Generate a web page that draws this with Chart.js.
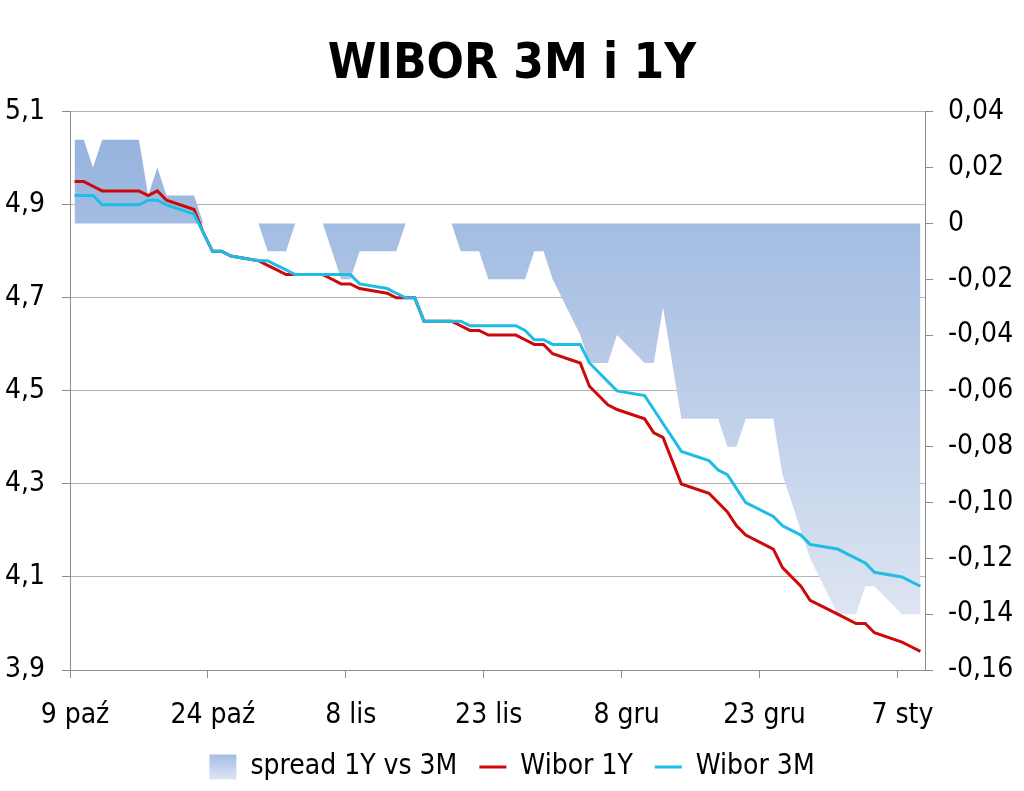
<!DOCTYPE html>
<html>
<head>
<meta charset="utf-8">
<title>WIBOR 3M i 1Y</title>
<script src="https://cdn.jsdelivr.net/npm/chart.js@4.4.1/dist/chart.umd.min.js"></script>
<style>
  html, body { margin: 0; padding: 0; background: #fff; }
</style>
</head>
<body>
<canvas id="myChart" width="1024" height="791"></canvas>
<script>
// fixing dates (x axis is a date axis, weekends are skipped)
const dates = [
  "2012-10-09", "2012-10-10", "2012-10-11", "2012-10-12", "2012-10-15", "2012-10-16", "2012-10-17",
  "2012-10-18", "2012-10-19", "2012-10-22", "2012-10-23", "2012-10-24", "2012-10-25", "2012-10-26",
  "2012-10-29", "2012-10-30", "2012-10-31", "2012-11-01", "2012-11-02", "2012-11-05", "2012-11-06",
  "2012-11-07", "2012-11-08", "2012-11-09", "2012-11-12", "2012-11-13", "2012-11-14", "2012-11-15",
  "2012-11-16", "2012-11-19", "2012-11-20", "2012-11-21", "2012-11-22", "2012-11-23", "2012-11-26",
  "2012-11-27", "2012-11-28", "2012-11-29", "2012-11-30", "2012-12-03", "2012-12-04", "2012-12-05",
  "2012-12-06", "2012-12-07", "2012-12-10", "2012-12-11", "2012-12-12", "2012-12-13", "2012-12-14",
  "2012-12-17", "2012-12-18", "2012-12-19", "2012-12-20", "2012-12-21", "2012-12-24", "2012-12-25",
  "2012-12-27", "2012-12-28", "2012-12-31", "2013-01-02", "2013-01-03", "2013-01-04", "2013-01-07",
  "2013-01-08", "2013-01-09"
];

const wibor1Y = [
  4.95, 4.95, 4.94, 4.93, 4.93, 4.93, 4.92,
  4.93, 4.91, 4.89, 4.84, 4.80, 4.80, 4.79,
  4.78, 4.77, 4.76, 4.75, 4.75, 4.75, 4.74,
  4.73, 4.73, 4.72, 4.71, 4.70, 4.70, 4.70,
  4.65, 4.65, 4.64, 4.63, 4.63, 4.62, 4.62,
  4.61, 4.60, 4.60, 4.58, 4.56, 4.51, 4.49,
  4.47, 4.46, 4.44, 4.41, 4.40, 4.35, 4.30,
  4.28, 4.26, 4.24, 4.21, 4.19, 4.16, 4.12,
  4.08, 4.05, 4.02, 4.00, 4.00, 3.98, 3.96,
  3.95, 3.94
];

const wibor3M = [
  4.92, 4.92, 4.92, 4.90, 4.90, 4.90, 4.91,
  4.91, 4.90, 4.88, 4.84, 4.80, 4.80, 4.79,
  4.78, 4.78, 4.77, 4.76, 4.75, 4.75, 4.75,
  4.75, 4.75, 4.73, 4.72, 4.71, 4.70, 4.70,
  4.65, 4.65, 4.65, 4.64, 4.64, 4.64, 4.64,
  4.63, 4.61, 4.61, 4.60, 4.60, 4.56, 4.54,
  4.52, 4.50, 4.49, 4.46, 4.43, 4.40, 4.37,
  4.35, 4.33, 4.32, 4.29, 4.26, 4.23, 4.21,
  4.19, 4.17, 4.16, 4.14, 4.13, 4.11, 4.10,
  4.09, 4.08
];

const spread = [
  0.03, 0.03, 0.02, 0.03, 0.03, 0.03, 0.01,
  0.02, 0.01, 0.01, 0, 0, 0, 0,
  0, -0.01, -0.01, -0.01, 0, 0, -0.01,
  -0.02, -0.02, -0.01, -0.01, -0.01, 0, 0,
  0, 0, -0.01, -0.01, -0.01, -0.02, -0.02,
  -0.02, -0.01, -0.01, -0.02, -0.04, -0.05, -0.05,
  -0.05, -0.04, -0.05, -0.05, -0.03, -0.05, -0.07,
  -0.07, -0.07, -0.08, -0.08, -0.07, -0.07, -0.09,
  -0.11, -0.12, -0.14, -0.14, -0.13, -0.13, -0.14,
  -0.14, -0.14
];

const tickDates = ["2012-10-09", "2012-10-24", "2012-11-08", "2012-11-23", "2012-12-08", "2012-12-23", "2013-01-07"];
const tickLabels = ["9 paź", "24 paź", "8 lis", "23 lis", "8 gru", "23 gru", "7 sty"];

const FONT = "'DejaVu Sans Condensed', 'DejaVu Sans', sans-serif";
const GRAY = "#8c8c8c";
const LEGEND_PAD = 22;

// day number counted from the first date
function dayOf(d) {
  return (Date.parse(d) - Date.parse(dates[0])) / 86400000;
}
const days = dates.map(dayOf);
const tickDays = tickDates.map(dayOf);

function areaFill(context) {
  const chart = context.chart;
  const area = chart.chartArea;
  if (!area) return "#b8cbe9";
  const g = chart.ctx.createLinearGradient(0, area.top, 0, area.bottom);
  g.addColorStop(0, "#92b1dd");
  g.addColorStop(1, "#e6eaf4");
  return g;
}

function comma(v, digits) {
  if (Math.abs(v) < 1e-9) return "0";
  return v.toFixed(digits).replace(".", ",");
}

Chart.defaults.font.family = FONT;
Chart.defaults.color = "#000";

const ctx = document.getElementById("myChart").getContext("2d");

const chart = new Chart(ctx, {
  type: "line",
  data: {
    datasets: [
      {
        label: "spread 1Y vs 3M",
        data: days.map((d, i) => ({ x: d, y: spread[i] })),
        yAxisID: "y1",
        fill: "origin",
        backgroundColor: areaFill,
        borderWidth: 0,
        borderColor: "rgba(0,0,0,0)",
        pointRadius: 0,
        pointStyle: "rect",
        order: 3,
      },
      {
        label: "Wibor 1Y",
        data: days.map((d, i) => ({ x: d, y: wibor1Y[i] })),
        yAxisID: "y",
        borderColor: "#cc0a0a",
        backgroundColor: "#cc0a0a",
        borderWidth: 3,
        pointRadius: 0,
        pointStyle: "line",
        fill: false,
        order: 2,
      },
      {
        label: "Wibor 3M",
        data: days.map((d, i) => ({ x: d, y: wibor3M[i] })),
        yAxisID: "y",
        borderColor: "#1ebde6",
        backgroundColor: "#1ebde6",
        borderWidth: 3,
        pointRadius: 0,
        pointStyle: "line",
        fill: false,
        order: 1,
      },
    ],
  },
  options: {
    responsive: false,
    animation: false,
    events: [],
    layout: { padding: 0 },
    elements: { line: { tension: 0 } },
    plugins: {
      tooltip: { enabled: false },
      title: {
        display: true,
        text: "WIBOR 3M i 1Y",
        color: "#000",
        font: { family: FONT, size: 49, weight: "bold" },
        padding: { top: 36, bottom: 17 },
      },
      legend: {
        position: "bottom",
        reverse: true,
        labels: {
          font: { family: FONT, size: 28 },
          color: "#000",
          usePointStyle: true,
          pointStyleWidth: 27,
          boxHeight: 25,
          padding: LEGEND_PAD,
          generateLabels: (c) => {
            const items = Chart.defaults.plugins.legend.labels.generateLabels(c);
            items.forEach((it) => {
              if (it.datasetIndex === 0) {
                const top = c.height - (28 + LEGEND_PAD + 10) + LEGEND_PAD + 1;
                const g = c.ctx.createLinearGradient(0, top, 0, top + 26);
                g.addColorStop(0, "#a3bce6");
                g.addColorStop(1, "#dfe6f4");
                it.fillStyle = g;
                it.lineWidth = 0;
                it.strokeStyle = "rgba(0,0,0,0)";
              }
            });
            return items;
          },
        },
      },
    },
    scales: {
      x: {
        type: "linear",
        min: -0.5,
        max: 92.5,
        afterFit: (s) => { s.height = 61; },
        afterBuildTicks: (s) => { s.ticks = tickDays.map((d) => ({ value: d - 0.5 })); },
        ticks: {
          autoSkip: false,
          maxRotation: 0,
          labelOffset: 5,
          padding: 21,
          font: { family: FONT, size: 28 },
          callback: (value, index) => tickLabels[index],
        },
        grid: { drawOnChartArea: false, drawTicks: true, tickLength: 8, color: GRAY },
        border: { color: GRAY },
      },
      y: {
        position: "left",
        min: 3.9,
        max: 5.1,
        afterFit: (s) => { s.width = 70; },
        ticks: {
          stepSize: 0.2,
          padding: 17,
          font: { family: FONT, size: 28 },
          callback: (v) => comma(v, 1),
        },
        grid: { color: "#b4b4b4", tickColor: GRAY, tickLength: 8 },
        border: { color: GRAY },
      },
      y1: {
        position: "right",
        min: -0.16,
        max: 0.04,
        afterFit: (s) => { s.width = 99; },
        ticks: {
          stepSize: 0.02,
          padding: 15,
          font: { family: FONT, size: 28 },
          callback: (v) => comma(v, 2),
        },
        grid: { drawOnChartArea: false, tickLength: 8, color: GRAY },
        border: { color: GRAY },
      },
    },
  },
});
</script>
</body>
</html>
